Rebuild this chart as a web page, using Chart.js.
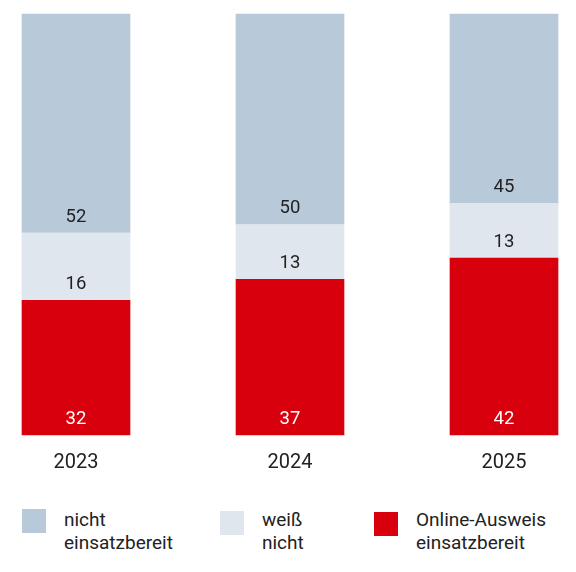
<!DOCTYPE html>
<html>
<head>
<meta charset="utf-8">
<script src="https://cdn.jsdelivr.net/npm/chart.js@4"></script>
<style>
  html, body { margin: 0; padding: 0; background: #fff; }
  body { width: 576px; height: 572px; position: relative; overflow: hidden; font-family: Roboto, sans-serif; }
  #wrap { position: absolute; left: 0; top: 0; width: 576px; height: 491px; }
  .leg { position: absolute; top: 509px; font-size: 19px; line-height: 22.5px; color: #222; }
  .leg i { position: absolute; left: 0; width: 24px; height: 24px; }
  .leg span { position: absolute; top: 0; left: 42px; white-space: nowrap; }
</style>
</head>
<body>
<div id="wrap"><canvas id="chart"></canvas></div>
<div id="legend"></div>
<script>
const jahre      = ['2023', '2024', '2025']
const online     = [32, 37, 42]
const weissNicht = [16, 13, 13]
const nicht      = [52, 50, 45]

const rot   = '#d9000d'
const hell  = '#dfe6ed'
const grau  = '#b8c9da'
const text  = '#222'

// ── Werte am unteren Rand jedes Segments ──
const segmentLabels = {
  id: 'segmentLabels',
  afterDatasetsDraw(chart) {
    const ctx = chart.ctx
    ctx.save()
    ctx.font = '18.5px Roboto'
    ctx.textAlign = 'center'
    ctx.textBaseline = 'middle'
    chart.data.datasets.forEach((ds, i) => {
      chart.getDatasetMeta(i).data.forEach((bar, j) => {
        ctx.fillStyle = ds.labelColor
        ctx.fillText(ds.data[j], bar.x, bar.base - 16)
      })
    })
    ctx.restore()
  }
}

new Chart(document.getElementById('chart'), {
  type: 'bar',
  data: {
    labels: jahre,
    datasets: [
      { label: 'Online-Ausweis\neinsatzbereit', data: online, backgroundColor: rot, labelColor: '#fff' },
      { label: 'weiß\nnicht', data: weissNicht, backgroundColor: hell, labelColor: text },
      { label: 'nicht\neinsatzbereit', data: nicht, backgroundColor: grau, labelColor: text }
    ].map(d => ({ ...d, barThickness: 108, borderWidth: 0, clip: false }))
  },
  options: {
    responsive: true,
    maintainAspectRatio: false,
    animation: false,
    layout: { padding: { left: 76, right: 72, top: 14, bottom: 0 } },
    scales: {
      x: {
        stacked: true,
        offset: false,
        grid: { display: false, drawTicks: false },
        border: { display: false },
        ticks: { color: text, font: { family: 'Roboto', size: 20 }, padding: 16 }
      },
      y: {
        stacked: true,
        display: false,
        min: 0,
        max: 100
      }
    },
    plugins: {
      legend: { display: false },
      tooltip: { enabled: false }
    }
  },
  plugins: [segmentLabels]
})

// ── Legende ──
const legende = [
  { farbe: grau, text: 'nicht<br>einsatzbereit', left: 22, top: 0 },
  { farbe: hell, text: 'weiß<br>nicht', left: 220, top: 2 },
  { farbe: rot,  text: 'Online-Ausweis<br>einsatzbereit', left: 374, top: 3 }
]
document.getElementById('legend').innerHTML = legende.map(l =>
  `<div class="leg" style="left:${l.left}px"><i style="background:${l.farbe};top:${l.top}px"></i><span>${l.text}</span></div>`
).join('')
</script>
</body>
</html>
